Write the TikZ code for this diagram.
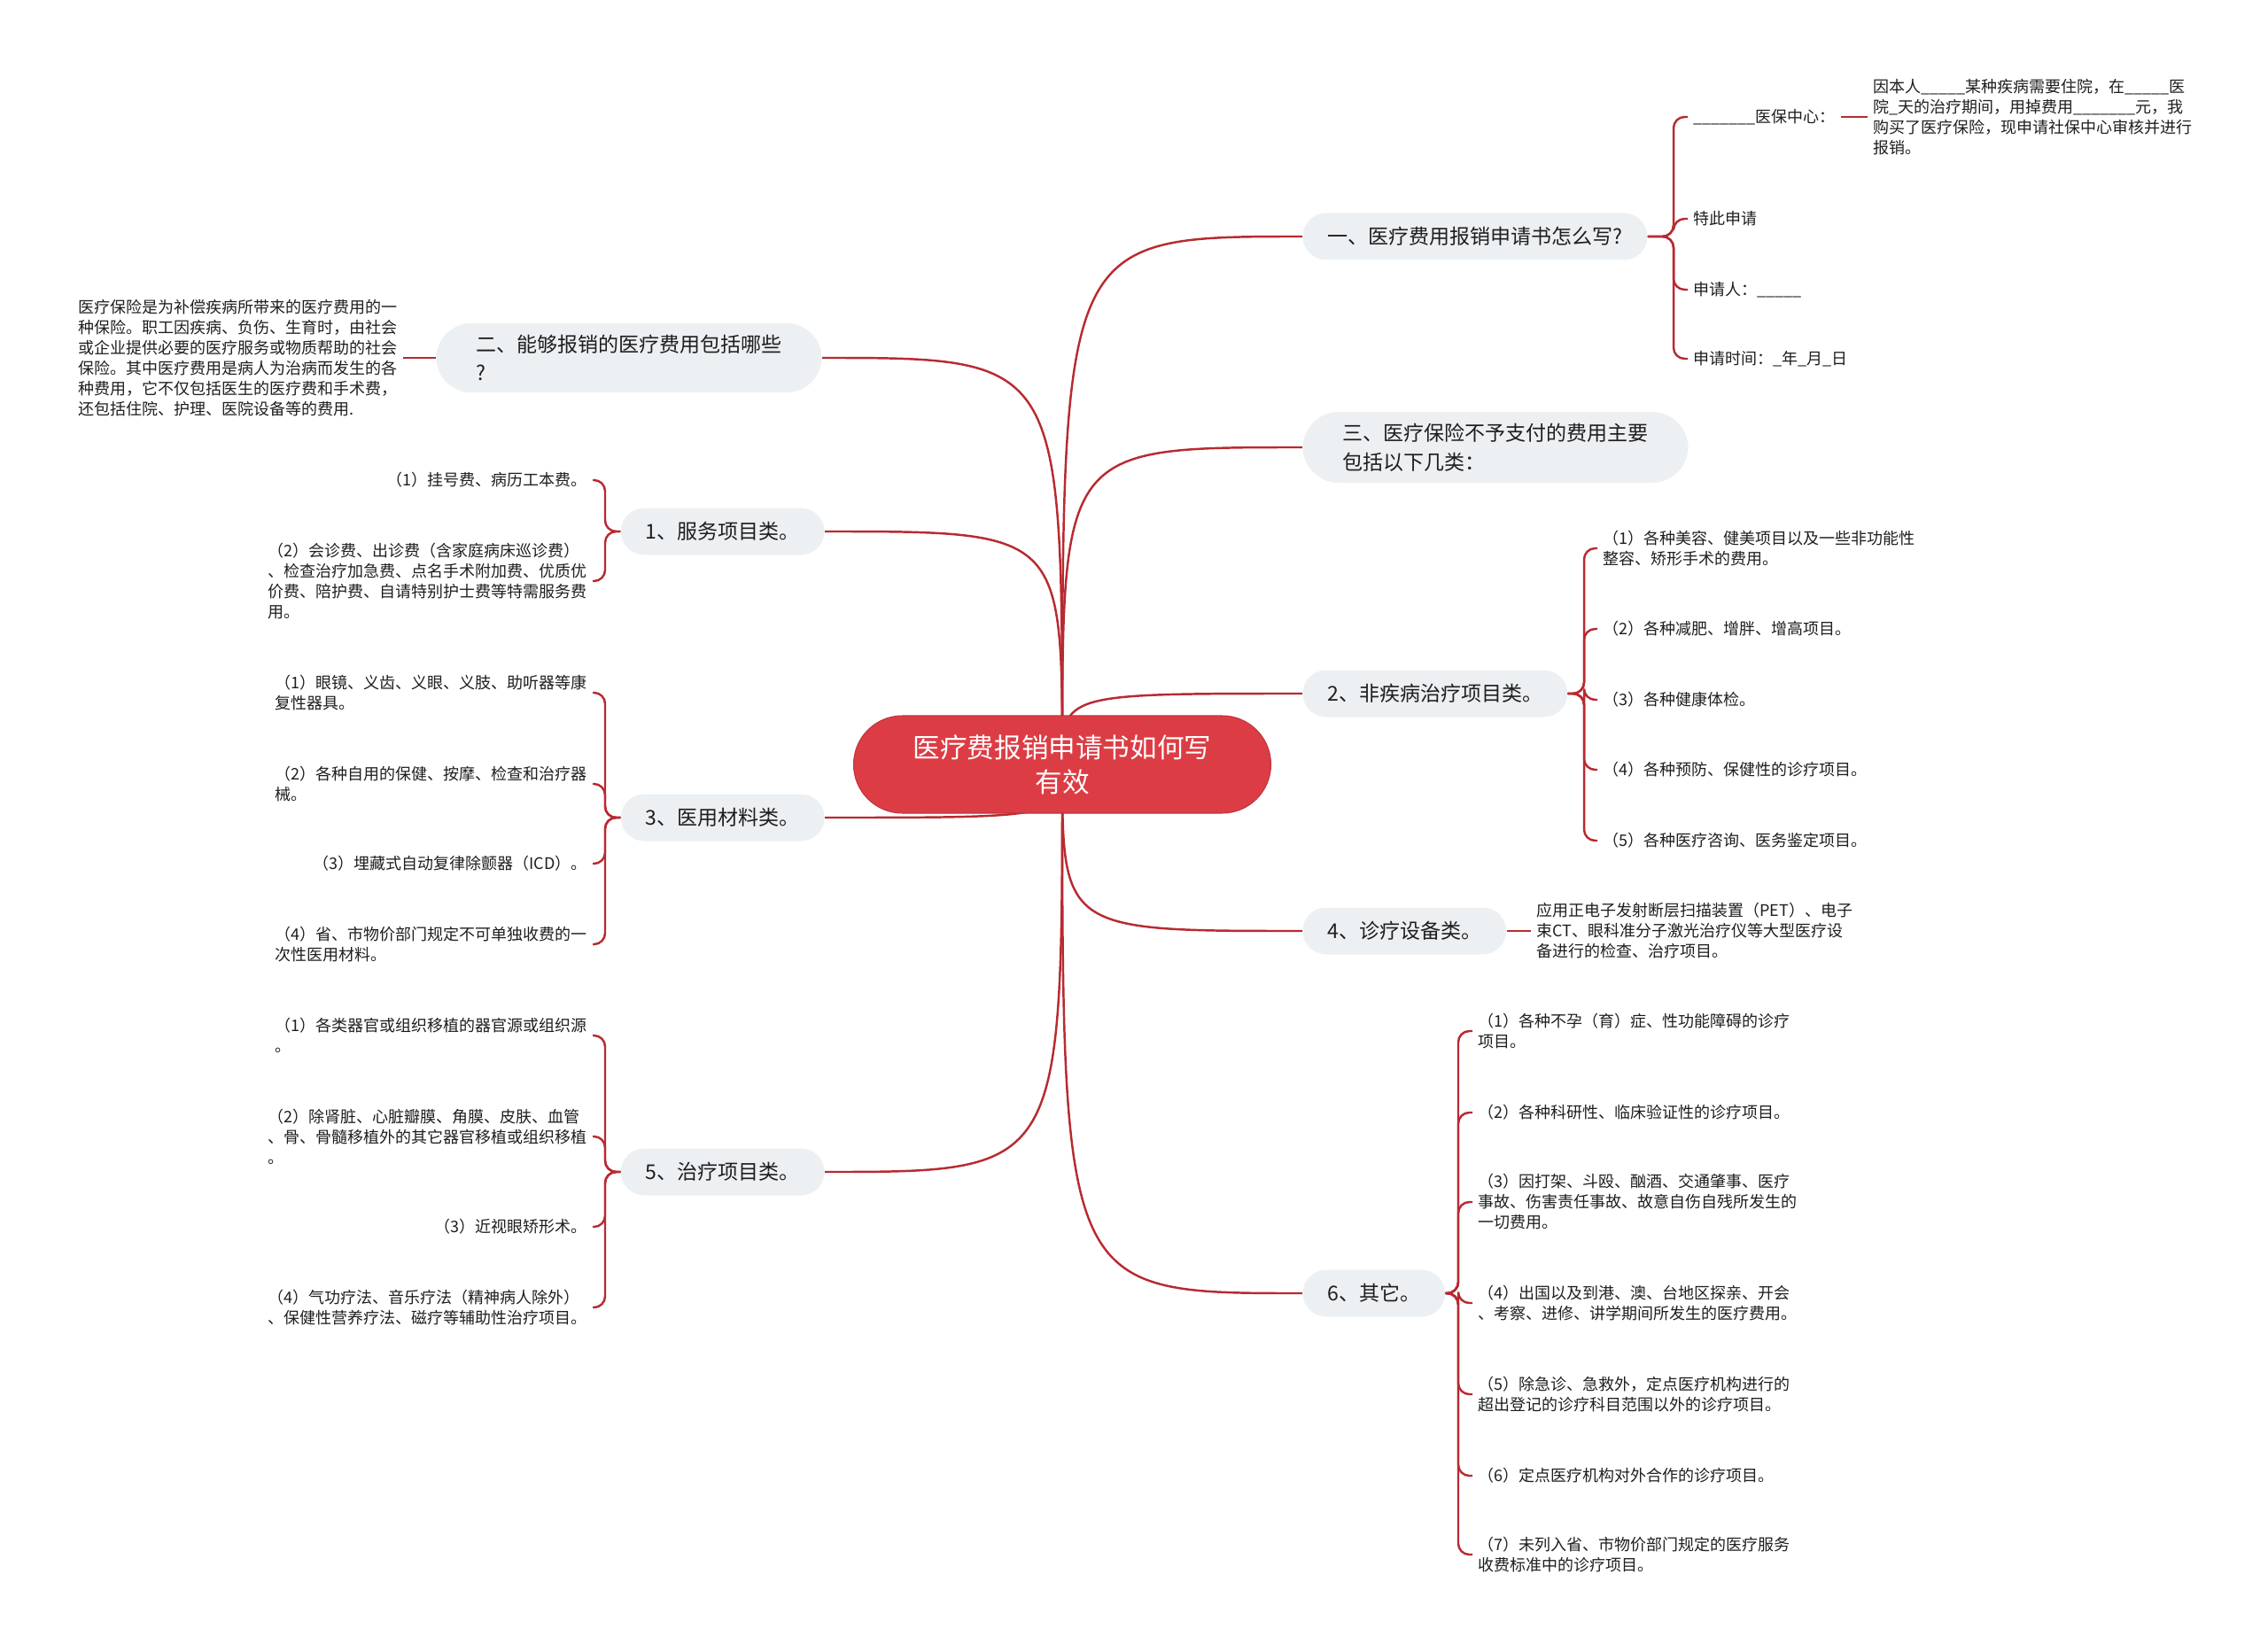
\documentclass[tikz,border=0pt]{standalone}
\usepackage{fontspec}
\setmainfont{Noto Sans CJK SC}
\usepackage{tikz}
\usetikzlibrary{positioning,backgrounds}
\definecolor{rootred}{HTML}{DC3D45}
\definecolor{rootedge}{HTML}{C2333B}
\definecolor{linkred}{HTML}{B82A31}
\definecolor{topicbg}{HTML}{EDF0F3}
\definecolor{textgrey}{HTML}{1E1E1E}

\begin{document}
\begin{tikzpicture}[
  root/.style={draw=rootedge,fill=rootred,text=white,line width=0.6pt,
               rounded corners=1.1cm,minimum width=9.42cm,minimum height=2.2cm,
               align=center,font=\fontsize{17.4pt}{22.2pt}\selectfont},
  topic/.style={fill=topicbg,rounded corners=0.53cm,minimum height=1.06cm,
                inner xsep=0.56cm,inner ysep=0.26cm,align=left,text=textgrey,
                font=\fontsize{13.1pt}{18.6pt}\selectfont},
  leaf/.style={inner xsep=0.12cm,inner ysep=0.05cm,align=left,text=textgrey,
               font=\fontsize{10.24pt}{13.1pt}\selectfont},
  link/.style={draw=linkred,line width=1.4pt},
  brace/.style={link,rounded corners=0.25cm},
]
\useasboundingbox (0,0) rectangle (51.2,-37.3);

\node[root] (root) at (23.98,-17.26) {医疗费报销申请书如何写\\有效};

% topics, right side
\node[topic,anchor=west] (b1) at (29.4,-5.34) {一、医疗费用报销申请书怎么写?};
\node[topic,anchor=west,rounded corners=0.82cm,inner xsep=0.9cm] (b3) at (29.4,-10.10)
  {三、医疗保险不予支付的费用主要\\包括以下几类：};
\node[topic,anchor=west] (b5) at (29.4,-15.66) {2、非疾病治疗项目类。};
\node[topic,anchor=west] (b7) at (29.4,-21.02) {4、诊疗设备类。};
\node[topic,anchor=west] (b9) at (29.4,-29.20) {6、其它。};

% topics, left side
\node[topic,anchor=east,rounded corners=0.8cm,inner xsep=0.9cm] (b2) at (18.56,-8.08)
  {二、能够报销的医疗费用包括哪些\\?};
\node[topic,anchor=east] (b4) at (18.62,-12.0) {1、服务项目类。};
\node[topic,anchor=east] (b6) at (18.62,-18.46) {3、医用材料类。};
\node[topic,anchor=east] (b8) at (18.62,-26.46) {5、治疗项目类。};

% root to topics, behind the root
\begin{scope}[on background layer]
\foreach \b in {b1,b3,b5,b7,b9}
  \draw[link] (root.center) .. controls (root.center |- \b.west) .. (\b.west);
\foreach \b in {b2,b4,b6,b8}
  \draw[link] (root.center) .. controls (root.center |- \b.east) .. (\b.east);
\end{scope}

% 一
\coordinate (j1) at (37.78,-5.34);
\node[leaf,anchor=west] (l1a) at (38.1,-2.64) {\_\_\_\_\_\_\_医保中心：};
\node[leaf,anchor=west] (l1b) at (38.1,-4.94) {特此申请};
\node[leaf,anchor=west] (l1c) at (38.1,-6.54) {申请人：\_\_\_\_\_};
\node[leaf,anchor=west] (l1d) at (38.1,-8.10) {申请时间：\_年\_月\_日};
\node[leaf,anchor=west] (p1) at (42.16,-2.64)
  {因本人\_\_\_\_\_某种疾病需要住院，在\_\_\_\_\_医\\
   院\_天的治疗期间，用掉费用\_\_\_\_\_\_\_元，我\\
   购买了医疗保险，现申请社保中心审核并进行\\
   报销。};
\foreach \n in {l1a,l1b,l1c,l1d}
  \draw[brace] (b1.east) -- (j1) |- (\n.west);
\draw[link] (l1a.east) -- (p1.west);

% 二
\node[leaf,anchor=east] (p2) at (9.10,-8.08)
  {医疗保险是为补偿疾病所带来的医疗费用的一\\
   种保险。职工因疾病、负伤、生育时，由社会\\
   或企业提供必要的医疗服务或物质帮助的社会\\
   保险。其中医疗费用是病人为治病而发生的各\\
   种费用，它不仅包括医生的医疗费和手术费，\\
   还包括住院、护理、医院设备等的费用.};
\draw[link] (b2.west) -- (p2.east);

% 1
\coordinate (j4) at (13.66,-12.0);
\node[leaf,anchor=east] (l4a) at (13.38,-10.84) {（1）挂号费、病历工本费。};
\node[leaf,anchor=east] (l4b) at (13.38,-13.12)
  {（2）会诊费、出诊费（含家庭病床巡诊费）\\
   、检查治疗加急费、点名手术附加费、优质优\\
   价费、陪护费、自请特别护士费等特需服务费\\
   用。};
\foreach \n in {l4a,l4b}
  \draw[brace] (b4.west) -- (j4) |- (\n.east);

% 2
\coordinate (j5) at (35.76,-15.66);
\node[leaf,anchor=west] (l5a) at (36.06,-12.38)
  {（1）各种美容、健美项目以及一些非功能性\\整容、矫形手术的费用。};
\node[leaf,anchor=west] (l5b) at (36.06,-14.20) {（2）各种减肥、增胖、增高项目。};
\node[leaf,anchor=west] (l5c) at (36.06,-15.80) {（3）各种健康体检。};
\node[leaf,anchor=west] (l5d) at (36.06,-17.38) {（4）各种预防、保健性的诊疗项目。};
\node[leaf,anchor=west] (l5e) at (36.06,-18.98) {（5）各种医疗咨询、医务鉴定项目。};
\foreach \n in {l5a,l5b,l5c,l5d,l5e}
  \draw[brace] (b5.east) -- (j5) |- (\n.west);

% 3
\coordinate (j6) at (13.66,-18.46);
\node[leaf,anchor=east] (l6a) at (13.38,-15.64)
  {（1）眼镜、义齿、义眼、义肢、助听器等康\\复性器具。};
\node[leaf,anchor=east] (l6b) at (13.38,-17.70)
  {（2）各种自用的保健、按摩、检查和治疗器\\械。};
\node[leaf,anchor=east] (l6c) at (13.38,-19.50) {（3）埋藏式自动复律除颤器（ICD）。};
\node[leaf,anchor=east] (l6d) at (13.38,-21.32)
  {（4）省、市物价部门规定不可单独收费的一\\次性医用材料。};
\foreach \n in {l6a,l6b,l6c,l6d}
  \draw[brace] (b6.west) -- (j6) |- (\n.east);

% 4
\node[leaf,anchor=west] (p7) at (34.56,-21.02)
  {应用正电子发射断层扫描装置（PET）、电子\\
   束CT、眼科准分子激光治疗仪等大型医疗设\\
   备进行的检查、治疗项目。};
\draw[link] (b7.east) -- (p7.west);

% 5
\coordinate (j8) at (13.66,-26.46);
\node[leaf,anchor=east] (l8a) at (13.38,-23.38)
  {（1）各类器官或组织移植的器官源或组织源\\。};
\node[leaf,anchor=east] (l8b) at (13.38,-25.66)
  {（2）除肾脏、心脏瓣膜、角膜、皮肤、血管\\
   、骨、骨髓移植外的其它器官移植或组织移植\\。};
\node[leaf,anchor=east] (l8c) at (13.38,-27.70) {（3）近视眼矫形术。};
\node[leaf,anchor=east] (l8d) at (13.38,-29.52)
  {（4）气功疗法、音乐疗法（精神病人除外）\\
   、保健性营养疗法、磁疗等辅助性治疗项目。};
\foreach \n in {l8a,l8b,l8c,l8d}
  \draw[brace] (b8.west) -- (j8) |- (\n.east);

% 6
\coordinate (j9) at (32.92,-29.20);
\node[leaf,anchor=west] (l9a) at (33.24,-23.28)
  {（1）各种不孕（育）症、性功能障碍的诊疗\\项目。};
\node[leaf,anchor=west] (l9b) at (33.24,-25.12) {（2）各种科研性、临床验证性的诊疗项目。};
\node[leaf,anchor=west] (l9c) at (33.24,-27.14)
  {（3）因打架、斗殴、酗酒、交通肇事、医疗\\
   事故、伤害责任事故、故意自伤自残所发生的\\
   一切费用。};
\node[leaf,anchor=west] (l9d) at (33.24,-29.42)
  {（4）出国以及到港、澳、台地区探亲、开会\\
   、考察、进修、讲学期间所发生的医疗费用。};
\node[leaf,anchor=west] (l9e) at (33.24,-31.48)
  {（5）除急诊、急救外，定点医疗机构进行的\\
   超出登记的诊疗科目范围以外的诊疗项目。};
\node[leaf,anchor=west] (l9f) at (33.24,-33.32) {（6）定点医疗机构对外合作的诊疗项目。};
\node[leaf,anchor=west] (l9g) at (33.24,-35.10)
  {（7）未列入省、市物价部门规定的医疗服务\\收费标准中的诊疗项目。};
\foreach \n in {l9a,l9b,l9c,l9d,l9e,l9f,l9g}
  \draw[brace] (b9.east) -- (j9) |- (\n.west);
\end{tikzpicture}
\end{document}
